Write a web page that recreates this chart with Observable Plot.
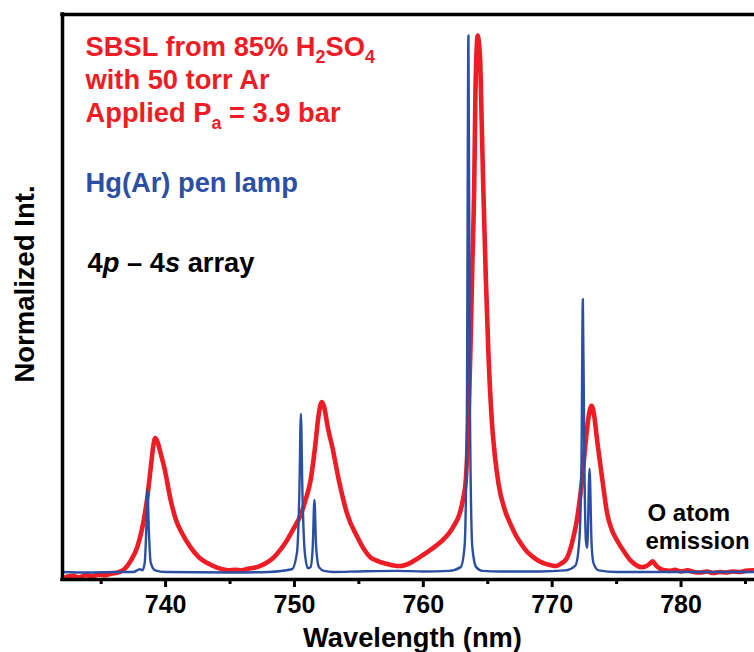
<!DOCTYPE html>
<html>
<head>
<meta charset="utf-8">
<script src="https://cdn.jsdelivr.net/npm/d3@7"></script>
<script src="https://cdn.jsdelivr.net/npm/@observablehq/plot@0.6"></script>
<style>
  html, body { margin: 0; padding: 0; background: #fff; }
  #chart svg { display: block; }
</style>
</head>
<body>
<div id="chart"></div>
<script>
// SBSL spectrum (85% H2SO4, 50 torr Ar), normalized: [wavelength nm, intensity]
const sbsl = [
  [732.3,-0.006],[732.8,-0.004],[733.3,-0.007],[733.8,-0.003],[734.3,-0.005],[734.8,-0.002],
  [735.3,-0.003],[735.8,0.000],[736.3,0.002],[736.8,0.008],[737.3,0.024],[737.8,0.049],
  [738.2,0.086],[738.55,0.136],[738.85,0.197],[739.05,0.238],[739.2,0.252],[739.35,0.246],
  [739.6,0.225],[739.9,0.197],[740.4,0.136],[740.8,0.100],[741.3,0.074],[741.9,0.050],
  [742.6,0.030],[743.2,0.020],[743.9,0.012],[744.4,0.008],[744.9,0.006],[745.4,0.007],
  [745.9,0.006],[746.4,0.009],[746.9,0.011],[747.4,0.015],[747.9,0.021],[748.4,0.030],
  [748.9,0.044],[749.4,0.061],[749.9,0.082],[750.5,0.110],[750.9,0.140],[751.25,0.173],
  [751.6,0.235],[751.85,0.290],[752.0,0.312],[752.12,0.319],[752.3,0.310],[752.6,0.270],
  [752.94,0.235],[753.45,0.173],[754.1,0.110],[754.9,0.067],[755.4,0.045],[755.9,0.030],
  [756.3,0.025],[756.7,0.021],[757.2,0.018],[757.7,0.015],[758.2,0.014],[758.6,0.016],
  [759.0,0.020],[759.5,0.027],[760.0,0.035],[760.5,0.043],[761.0,0.052],[761.5,0.062],
  [762.0,0.075],[762.4,0.090],[762.8,0.110],[763.1,0.140],[763.3,0.175],[763.5,0.280],
  [763.65,0.410],[763.8,0.570],[763.95,0.720],[764.05,0.900],[764.15,0.980],[764.22,1.000],
  [764.32,0.985],[764.42,0.950],[764.52,0.850],[764.65,0.720],[764.85,0.550],[765.05,0.410],
  [765.3,0.290],[765.55,0.220],[765.85,0.165],[766.3,0.120],[766.8,0.090],[767.2,0.070],
  [767.6,0.055],[768.0,0.042],[768.5,0.031],[769.0,0.023],[769.5,0.018],[770.0,0.015],
  [770.3,0.014],[770.65,0.018],[771.1,0.027],[771.4,0.045],[771.65,0.068],[771.9,0.097],
  [772.1,0.130],[772.3,0.170],[772.6,0.245],[772.85,0.295],[773.06,0.312],[773.25,0.295],
  [773.5,0.245],[773.9,0.173],[774.28,0.110],[774.65,0.080],[775.05,0.061],[775.6,0.040],
  [776.1,0.024],[776.5,0.016],[776.9,0.012],[777.3,0.014],[777.6,0.019],[777.8,0.023],
  [778.0,0.017],[778.3,0.010],[778.7,0.006],[779.1,0.005],[779.5,0.007],[780.0,0.004],
  [780.5,0.006],[781.0,0.003],[781.5,0.002],[782.0,0.004],[782.5,0.001],[783.0,0.003],
  [783.5,0.002],[784.0,0.004],[784.5,0.003],[785.0,0.005],[785.6,0.006]
];

// Hg(Ar) pen lamp reference lines, normalized: [wavelength nm, intensity]
const lamp = [
  [732.0,0.003],[734.0,0.002],[736.0,0.003],[737.5,0.003],[738.0,0.008],[738.2,0.006],
  [738.38,0.020],[738.5,0.080],[738.6,0.156],[738.7,0.080],[738.85,0.020],[739.2,0.006],
  [740.0,0.003],[745.0,0.002],[748.0,0.003],[749.8,0.008],[750.2,0.040],[750.38,0.150],
  [750.5,0.297],[750.62,0.150],[750.8,0.040],[751.05,0.010],[751.25,0.012],[751.42,0.050],
  [751.55,0.137],[751.68,0.050],[751.9,0.012],[752.3,0.005],[753.0,0.003],[755.0,0.004],
  [758.0,0.005],[760.0,0.004],[762.0,0.005],[762.9,0.012],[763.2,0.050],[763.38,0.300],
  [763.5,1.000],[763.62,0.300],[763.8,0.050],[764.1,0.012],[764.6,0.005],[766.0,0.004],
  [769.0,0.004],[771.0,0.006],[771.8,0.015],[772.1,0.060],[772.27,0.200],[772.38,0.510],
  [772.5,0.200],[772.62,0.060],[772.72,0.048],[772.9,0.195],[773.05,0.060],[773.2,0.020],
  [773.6,0.006],[775.0,0.003],[777.0,0.003],[780.0,0.003],[785.7,0.003]
];

const majorTicks = [740, 750, 760, 770, 780];
const minorTicks = [735, 745, 755, 765, 775, 785];

const sbslNote = ["SBSL from 85% H_2SO_4", "with 50 torr Ar", "Applied P_a = 3.9 bar"];
const lampNote = "Hg(Ar) pen lamp";
const arrayNote = "4*p* \u2013 4*s* array";
const oxygenNote = ["O atom", "emission"];
const xTitle = "Wavelength (nm)";
const yTitle = "Normalized Int.";

const RED = "#ee1c25";
const BLUE = "#2b4fa3";
const FONT = "'Liberation Sans', Arial, Helvetica, sans-serif";

const xDomain = [732, 785.7];
const yDomain = [-0.011, 1.039];

function note(text, dx, dy, fill, fontSize = 27.3) {
  return Plot.text([text], {
    frameAnchor: "top-left", textAnchor: "start", lineAnchor: "bottom",
    dx, dy, fill, fontSize, fontWeight: "bold"
  });
}

const chart = Plot.plot({
  width: 754,
  height: 652,
  marginLeft: 62,
  marginRight: 0,
  marginTop: 14,
  marginBottom: 73,
  style: { fontFamily: FONT, background: "white", overflow: "visible" },
  x: { domain: xDomain },
  y: { domain: yDomain, axis: null },
  marks: [
    Plot.line(sbsl, { x: d => d[0], y: d => d[1], stroke: RED, strokeWidth: 4.6, curve: "monotone-x", strokeLinejoin: "round" }),
    Plot.line(lamp, { x: d => d[0], y: d => d[1], stroke: BLUE, strokeWidth: 2.4, curve: "monotone-x" }),
    // frame: left, top and bottom edges
    Plot.ruleX([xDomain[0]], { strokeWidth: 3.5, strokeLinecap: "square" }),
    Plot.ruleY([yDomain[0]], { strokeWidth: 3.5, strokeLinecap: "square" }),
    Plot.ruleY([yDomain[1]], { strokeWidth: 3.5, strokeLinecap: "square" }),
    Plot.axisX(minorTicks, { tickSize: 5, strokeWidth: 3, tickFormat: () => "", label: null }),
    Plot.axisX(majorTicks, { tickSize: 8, strokeWidth: 3, tickPadding: 8, fontSize: 25, fontWeight: "bold", fill: "black", label: null, tickFormat: d => String(d) }),
    Plot.text([xTitle], { frameAnchor: "bottom", textAnchor: "middle", lineAnchor: "bottom", dx: 4, dy: 67, fontSize: 27.3, fontWeight: "bold", fill: "black" }),
    Plot.text([yTitle], { frameAnchor: "left", textAnchor: "middle", rotate: -90, dx: -37, dy: -13, fontSize: 27.5, fontWeight: "bold", fill: "black" }),
    note(sbslNote[0], 23, 41, RED),
    note(sbslNote[1], 23, 74, RED),
    note(sbslNote[2], 23, 107, RED),
    note(lampNote, 23, 177, BLUE),
    note(arrayNote, 25, 257, "black"),
    note(oxygenNote[0], 585, 506, "black", 24),
    note(oxygenNote[1], 583, 534, "black", 24)
  ]
});

// Turn "_x" into a subscript and "*...*" into italics inside text labels.
function richText(svg) {
  svg.querySelectorAll("text").forEach(t => {
    const s = t.textContent;
    if (!/[_*]/.test(s)) return;
    const size = parseFloat(getComputedStyle(t).fontSize) || 27;
    const sub = Math.round(size * 0.66), shift = Math.round(size * 0.24);
    const segs = [];
    let italic = false;
    for (let i = 0; i < s.length; i++) {
      const c = s[i];
      if (c === "*") { italic = !italic; continue; }
      if (c === "_" && i + 1 < s.length) { segs.push({ text: s[++i], sub: true, italic }); continue; }
      const last = segs[segs.length - 1];
      if (last && !last.sub && last.italic === italic) last.text += c;
      else segs.push({ text: c, sub: false, italic });
    }
    t.textContent = "";
    let down = false;
    for (const seg of segs) {
      const ts = document.createElementNS("http://www.w3.org/2000/svg", "tspan");
      ts.textContent = seg.text;
      if (seg.italic) ts.setAttribute("font-style", "italic");
      if (seg.sub) {
        ts.setAttribute("font-size", sub);
        if (!down) { ts.setAttribute("dy", shift); down = true; }
      } else if (down) {
        ts.setAttribute("dy", -shift); down = false;
      }
      t.appendChild(ts);
    }
  });
}

document.getElementById("chart").appendChild(chart);
richText(chart);
</script>
</body>
</html>
